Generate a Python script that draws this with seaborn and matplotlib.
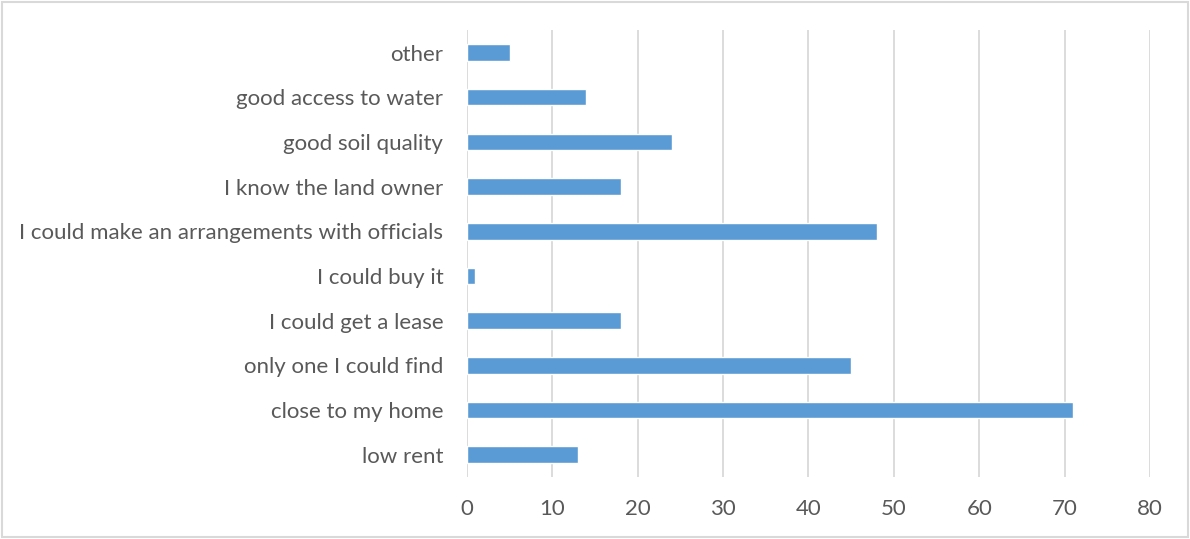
import pandas as pd
import matplotlib
matplotlib.use("Agg")
import matplotlib.pyplot as plt
import seaborn as sns

# categories listed top to bottom as in the chart
reasons = [
    "other",
    "good access to water",
    "good soil quality",
    "I know the land owner",
    "I could make an arrangements with officials",
    "I could buy it",
    "I could get a lease",
    "only one I could find",
    "close to my home",
    "low rent",
]
counts = [5, 14, 24, 18, 48, 1, 18, 45, 71, 13]
x_ticks = [0, 10, 20, 30, 40, 50, 60, 70, 80]

df = pd.DataFrame({"reason": reasons, "count": counts})

sns.set_theme(style="white")
plt.rcParams["font.family"] = ["Lato", "DejaVu Sans"]

fig = plt.figure(figsize=(11.9, 5.39), dpi=100)
ax = fig.add_axes([0.3924, 0.115, 0.5740, 0.829])

sns.barplot(data=df, y="reason", x="count", orient="h", color="#5B9BD5",
            saturation=1, width=0.37, ax=ax, zorder=3)

ax.set_xlim(0, 80)
ax.set_xticks(x_ticks)
ax.set_xticklabels([str(t) for t in x_ticks])
ax.set_ylim(9.5, -0.5)
ax.grid(axis="x", color="#D9D9D9", linewidth=1.3, zorder=0)
ax.grid(axis="y", visible=False)
ax.set_axisbelow(True)
for s in ax.spines.values():
    s.set_visible(False)
ax.set_xlabel("")
ax.set_ylabel("")
ax.tick_params(axis="both", length=0, labelsize=16, labelcolor="#595959")
ax.tick_params(axis="x", pad=16)
ax.tick_params(axis="y", pad=17)

# light frame around the whole chart
fig.patches.append(plt.Rectangle((0.002, 0.003), 0.996, 0.994, transform=fig.transFigure,
                                 fill=False, edgecolor="#D9D9D9", linewidth=1.5))

fig.savefig("out.png", dpi=100)
